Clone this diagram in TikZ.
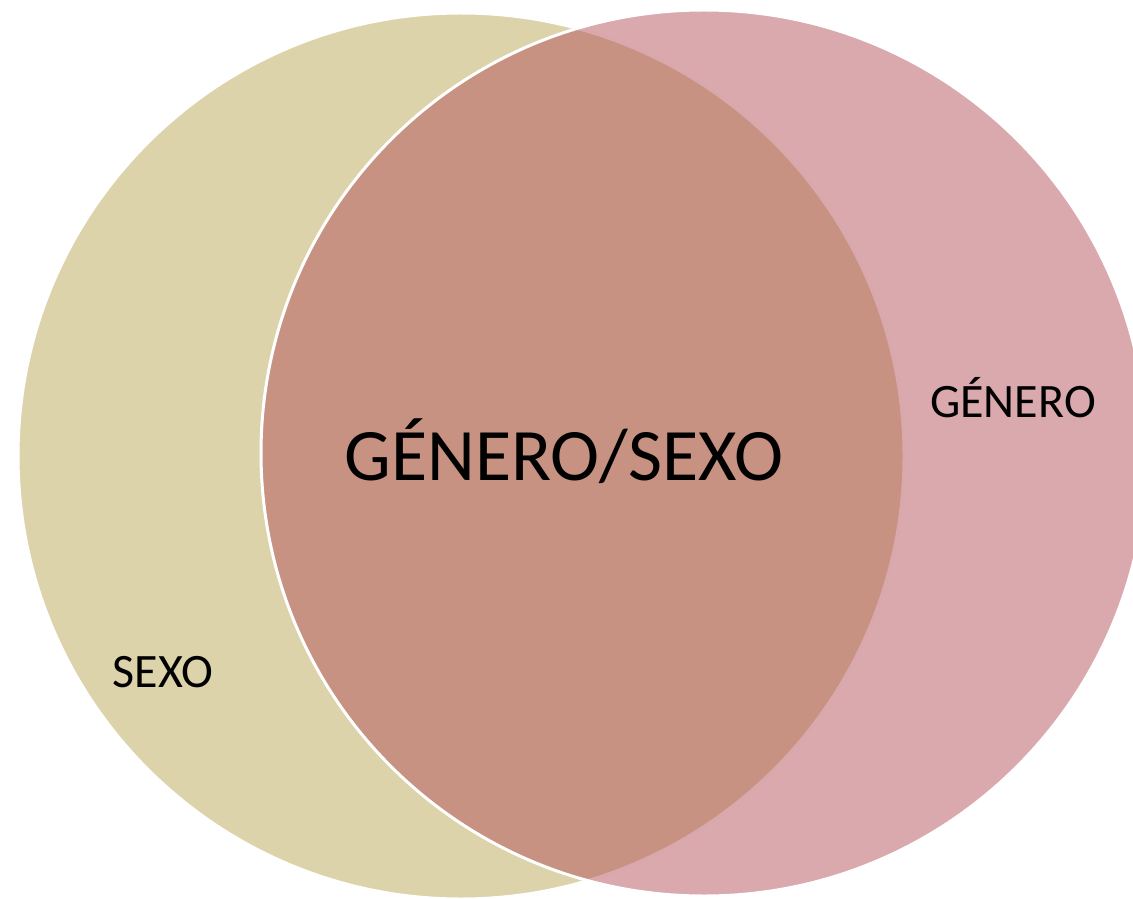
\documentclass[tikz,border=0pt]{standalone}
\usepackage{fontspec}
\setmainfont{Carlito}
\usepackage{tikz}
\usetikzlibrary{positioning}
\definecolor{sexofill}{HTML}{DDD3AA}
\definecolor{generofill}{HTML}{B3535B}
\tikzset{
	x=0.5pt, y=-0.5pt,
	every node/.style={inner sep=0pt, outer sep=0pt},
	conjunto/.style={circle, draw=white, line width=1.5pt, minimum size=443pt},
	etiqueta/.style={anchor=base, font=\fontsize{24}{28}\selectfont},
	central/.style={anchor=base, font=\fontsize{37}{44}\selectfont}
}

\begin{document}
\begin{tikzpicture}
	% Marco
	\useasboundingbox (0,0) rectangle (1133,898);
	
	\node (sexo) [conjunto, fill=sexofill] at (461,456) {};
	\node (genero) [conjunto, fill=generofill, fill opacity=0.5] at (704,453) {};
	
	\node (lsexo) [etiqueta] at (163,687) {SEXO};
	\node (lgenero) [etiqueta] at (1013,417) {GÉNERO};
	\node (lambos) [central] at (564,480) {GÉNERO/SEXO};
	
\end{tikzpicture}
\end{document}
